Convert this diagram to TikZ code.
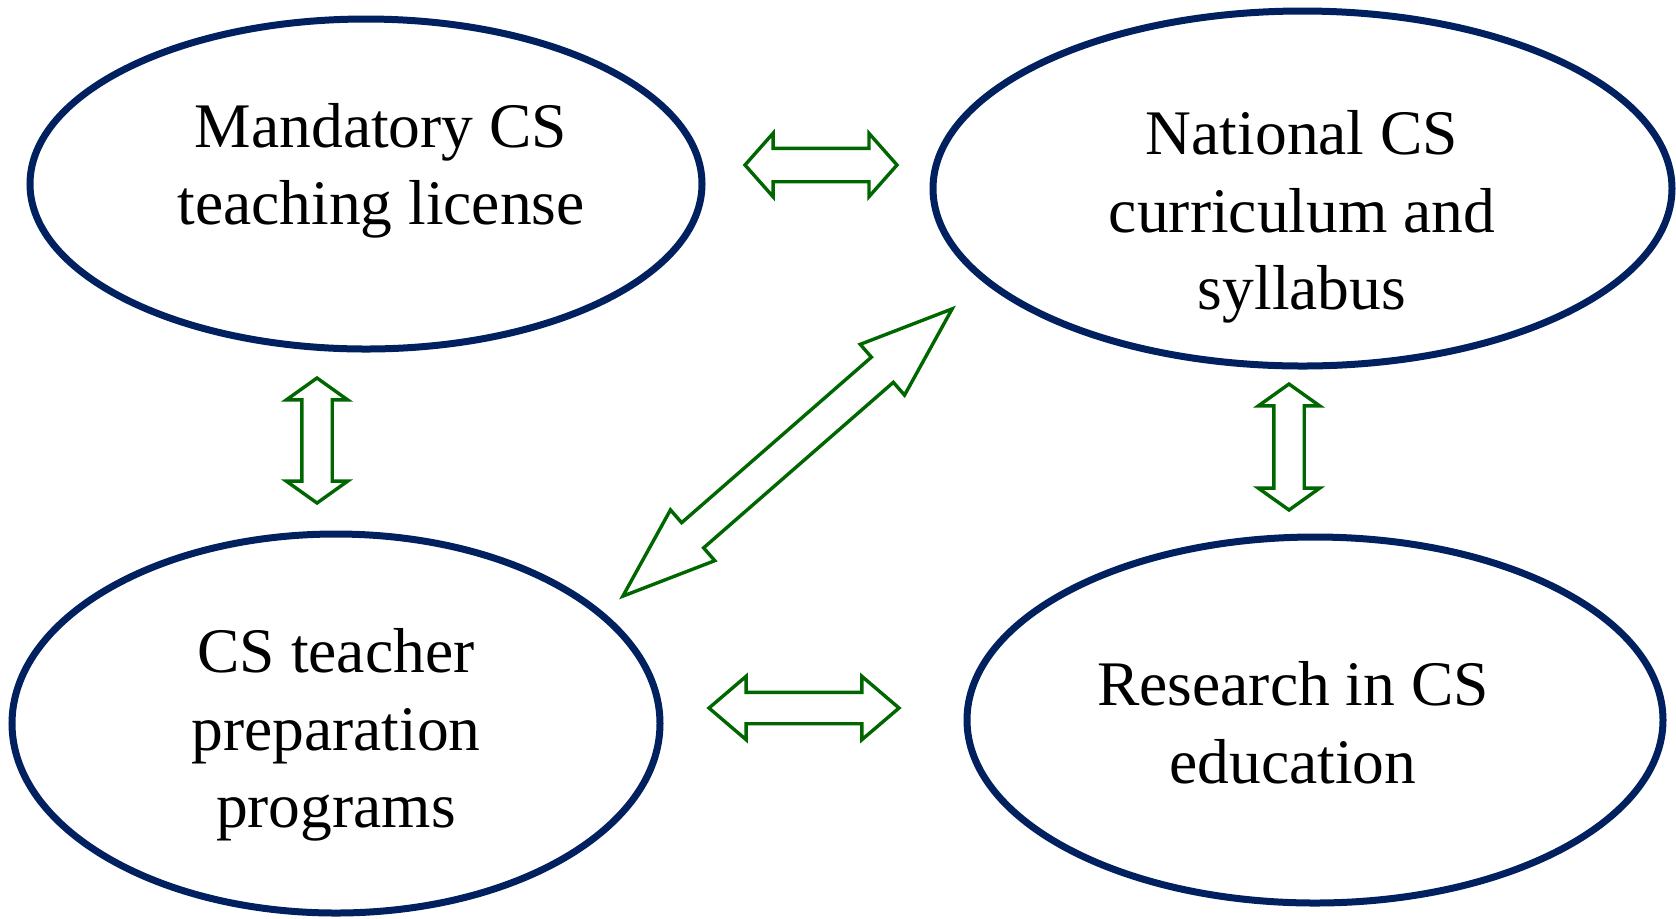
\documentclass[tikz,border=0pt]{standalone}
\usepackage{fontspec}
\setmainfont{Liberation Serif}
\usetikzlibrary{shapes.geometric, shapes.arrows}
\definecolor{ovalblue}{RGB}{0,32,96}
\definecolor{arrowgreen}{RGB}{0,102,0}

\begin{document}
\begin{tikzpicture}[x=0.5pt,y=0.5pt,yscale=-1,
  oval/.style={ellipse, draw=ovalblue, line width=3.5pt, inner sep=0pt},
  ovaltext/.style={align=center, inner sep=0pt, font=\fontsize{31.75}{38.75}\selectfont},
  twoway/.style={double arrow, draw=arrowgreen, fill=white, line width=1.7pt, inner sep=0pt, minimum width=0pt}]
\useasboundingbox (0,0) rectangle (1676,918);

%Shape: Ellipse (top left)
\node [oval, minimum width=336pt, minimum height=165pt] (license) at (366,184) {};
%Shape: Ellipse (top right)
\node [oval, minimum width=369.5pt, minimum height=177.5pt] (curriculum) at (1302.5,188.5) {};
%Shape: Ellipse (bottom left)
\node [oval, minimum width=324pt, minimum height=189.5pt] (preparation) at (336,723.5) {};
%Shape: Ellipse (bottom right)
\node [oval, minimum width=348pt, minimum height=183pt] (research) at (1315,720) {};

% Text Node
\node [ovaltext] (licensetext) at (381,171) {Mandatory CS\\teaching license};
% Text Node
\node [ovaltext] (curriculumtext) at (1302,217) {National CS\\curriculum and\\syllabus};
% Text Node
\node [ovaltext] (preparationtext) at (336,735) {CS teacher\\preparation\\programs};
% Text Node
\node [ovaltext] (researchtext) at (1293,723) {Research in CS\\education};

%Shape: Double Arrow (top)
\node [twoway, minimum height=76pt, inner ysep=7.5pt,
  double arrow head extend=7.5pt, double arrow tip angle=97] (licensecurriculum) at (821,165) {};
%Shape: Double Arrow (bottom)
\node [twoway, minimum height=95pt, inner ysep=7pt,
  double arrow head extend=8pt, double arrow tip angle=81] (preparationresearch) at (804,708) {};
%Shape: Double Arrow (left)
\node [twoway, rotate=90, minimum height=62.5pt, inner ysep=6.75pt,
  double arrow head extend=7.75pt, double arrow tip angle=109] (licensepreparation) at (317,440.5) {};
%Shape: Double Arrow (right)
\node [twoway, rotate=90, minimum height=63pt, inner ysep=6.75pt,
  double arrow head extend=7.75pt, double arrow tip angle=109] (curriculumresearch) at (1289,447) {};
%Shape: Double Arrow (diagonal)
\node [twoway, rotate=41.1, minimum height=218.5pt, inner ysep=7.5pt,
  double arrow head extend=8.5pt, double arrow tip angle=40] (preparationcurriculum) at (787.5,452.5) {};

\end{tikzpicture}
\end{document}
